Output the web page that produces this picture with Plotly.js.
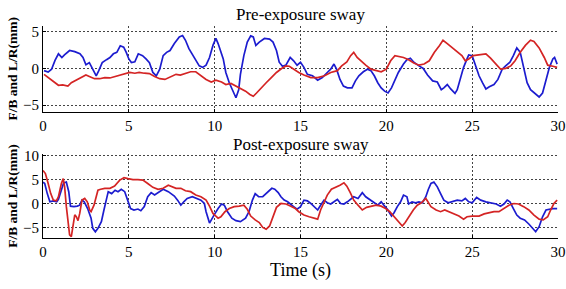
<!DOCTYPE html>
<html>
<head>
<meta charset="utf-8">
<script src="https://cdn.plot.ly/plotly-3.0.1.min.js"></script>
<style>html,body{margin:0;padding:0;background:#fff;}#chart{width:566px;height:289px;}</style>
</head>
<body>
<div id="chart"></div>
<script>
// ---- Pre-exposure sway (top) ----
const preBlueT = [0.06,0.3,0.5,0.7,0.9,1.1,1.25,1.55,1.85,2.15,2.33,2.5,2.7,2.9,3.1,3.25,3.45,3.7,3.9,4.1,4.3,4.5,4.7,4.85,5.0,5.15,5.35,5.55,5.8,6.0,6.2,6.4,6.6,6.8,7.0,7.2,7.4,7.65,7.94,8.13,8.3,8.5,8.8,9.1,9.3,9.5,9.7,9.9,10.07,10.2,10.5,10.65,10.85,11.05,11.24,11.4,11.5,11.7,11.9,12.1,12.25,12.4,12.6,12.9,13.2,13.4,13.6,13.76,13.95,14.15,14.4,14.6,14.8,15.0,15.2,15.4,15.7,16.0,16.27,16.56,16.76,16.95,17.1,17.3,17.5,17.73,18.0,18.2,18.4,18.66,18.9,19.1,19.3,19.5,19.7,19.9,20.1,20.3,20.5,20.7,21.0,21.2,21.4,21.6,21.9,22.15,22.4,22.7,22.97,23.2,23.35,23.55,23.75,24.0,24.13,24.3,24.5,24.7,24.8,25.0,25.2,25.4,25.6,25.8,26.0,26.27,26.5,26.75,26.95,27.2,27.4,27.6,27.8,28.0,28.2,28.4,28.7,28.9,29.1,29.3,29.5,29.7,29.8,29.95];
const preBlueY = [-0.3,-0.5,-0.1,1.1,2.0,1.5,1.85,2.45,2.3,2.0,1.5,0.5,0.8,-0.1,-1.0,-0.3,0.8,1.2,1.5,2.0,2.2,3.1,2.9,2.2,1.3,0.8,0.9,2.0,1.75,1.3,0.8,-0.55,-1.0,-0.1,1.75,2.2,2.45,3.4,4.3,4.5,3.85,2.7,1.5,0.35,0.15,0.45,1.5,3.15,4.1,3.4,1.3,-0.55,-1.95,-3.1,-4.0,-2.9,-0.8,1.75,3.6,4.45,4.3,3.15,3.6,4.1,4.0,3.6,2.45,0.85,0.3,0.45,1.5,1.05,0.45,0.85,0.15,-0.8,-1.0,-1.6,-1.25,-0.55,-0.1,0.6,-0.1,-1.5,-2.4,-2.65,-2.65,-1.7,-1.0,-0.45,-0.1,-0.3,-1.0,-1.95,-2.65,-3.1,-3.35,-2.65,-1.7,-0.55,0.6,1.2,1.4,0.85,0.35,0.0,-0.9,-1.7,-1.85,-2.9,-2.65,-2.2,-2.8,-3.4,-2.9,-1.5,0.15,1.3,1.85,1.75,0.35,-1.0,-1.95,-2.8,-2.5,-2.2,-1.5,-0.1,0.35,0.85,1.75,2.8,2.2,-0.1,-1.95,-2.9,-3.55,-3.9,-3.35,-1.7,0.15,1.3,1.5,0.6];

const preRedT = [0.06,0.3,0.6,0.9,1.15,1.45,1.65,1.95,2.25,2.5,2.7,3.0,3.3,3.6,3.9,4.2,4.45,4.75,5.05,5.35,5.6,5.9,6.2,6.5,6.8,7.1,7.45,7.75,8.0,8.3,8.6,8.9,9.2,9.5,9.8,10.07,10.4,10.65,10.95,11.24,11.5,11.8,12.05,12.25,12.44,12.7,13.0,13.3,13.6,13.9,14.15,14.35,14.6,14.9,15.2,15.6,16.0,16.4,16.76,17.15,17.4,17.7,17.92,18.1,18.3,18.5,18.8,19.1,19.4,19.7,20.0,20.25,20.5,20.7,21.0,21.3,21.6,21.9,22.2,22.5,22.8,23.1,23.3,23.55,23.85,24.1,24.4,24.6,24.8,25.06,25.4,25.8,26.07,26.4,26.65,26.95,27.25,27.5,27.8,28.1,28.4,28.6,28.9,29.2,29.4,29.7,29.95];
const preRedY = [-0.8,-1.25,-1.85,-2.3,-2.25,-2.4,-1.95,-1.6,-1.25,-0.9,-1.1,-1.4,-1.4,-1.25,-1.3,-1.1,-1.0,-0.8,-0.55,-0.65,-0.55,-0.65,-0.7,-1.1,-1.4,-1.5,-1.1,-0.8,-0.9,-0.65,-0.45,-0.45,-1.0,-1.5,-1.85,-1.6,-1.85,-2.2,-2.05,-2.4,-2.65,-3.1,-3.55,-3.8,-3.35,-2.65,-1.95,-1.25,-0.55,0.0,0.35,0.3,-0.1,-0.55,-0.9,-1.25,-1.25,-1.0,-0.55,-0.3,0.35,0.9,1.75,2.2,1.5,1.05,0.45,-0.1,-0.3,-0.45,-0.1,1.05,1.75,1.65,1.5,1.2,0.75,0.45,0.6,1.05,2.2,3.15,3.85,3.4,2.8,2.3,1.75,1.05,1.3,1.75,1.85,2.0,1.4,0.6,-0.1,0.0,0.35,1.05,2.2,3.15,3.85,3.7,2.8,1.5,0.45,0.3,0.15];

// ---- Post-exposure sway (bottom) ----
const postBlueT = [0,0.1,0.25,0.4,0.6,0.8,0.9,1.07,1.2,1.36,1.5,1.6,1.8,2.0,2.14,2.27,2.4,2.6,2.8,2.9,3.05,3.2,3.4,3.55,3.7,3.8,4.0,4.2,4.37,4.56,4.76,4.95,5.1,5.3,5.53,5.7,5.9,6.1,6.3,6.5,6.74,7.0,7.3,7.65,7.84,8.03,8.2,8.4,8.7,8.95,9.2,9.4,9.5,9.7,9.84,9.97,10.2,10.4,10.56,10.75,11.0,11.24,11.5,11.8,12.0,12.2,12.36,12.56,12.8,13.1,13.33,13.5,13.7,13.86,14.05,14.25,14.44,14.6,14.8,15.0,15.2,15.4,15.6,15.8,16.0,16.17,16.37,16.56,16.76,16.95,17.15,17.34,17.53,17.73,17.92,18.1,18.35,18.6,18.8,19.05,19.3,19.5,19.7,19.86,20.06,20.3,20.45,20.64,20.83,21.0,21.2,21.3,21.5,21.7,21.9,22.1,22.3,22.45,22.6,22.77,22.97,23.16,23.35,23.6,23.84,24.13,24.4,24.6,24.8,25.0,25.26,25.5,25.8,26.07,26.4,26.65,26.85,27.04,27.2,27.4,27.6,27.8,28.05,28.3,28.5,28.7,28.9,29.1,29.3,29.5,29.7,29.95];
const postBlueY = [4.5,4.2,2.1,0.4,0.6,0.4,0.9,2.8,4.3,4.5,2.5,-0.5,-0.6,-0.5,-0.3,0.75,0.4,-1.0,-3.0,-5.1,-5.8,-5.1,-3.7,-1.3,0.75,2.5,2.1,2.8,2.5,3.0,2.5,0.75,-1.0,-1.3,-1.1,-1.45,-0.6,1.45,2.3,1.8,2.3,3.0,2.5,1.6,0.75,-0.3,0.4,1.1,1.45,1.1,0.75,0.05,-1.65,-4.0,-3.0,-2.3,-1.0,-0.05,-0.3,-1.65,-3.0,-3.5,-3.7,-3.0,-1.65,0.75,2.1,1.45,1.45,2.5,3.2,3.0,2.3,1.45,0.75,0.4,-0.05,-0.6,-1.15,-0.6,0.75,0.6,0.05,-0.6,-1.3,-0.3,0.75,0.2,-0.05,0.4,0.9,0.05,-0.05,0.4,0.9,1.45,1.1,2.3,1.45,0.75,0.2,-0.3,0.4,-0.3,-1.15,-2.55,-1.85,-0.6,0.4,1.8,1.45,-0.05,0.4,0.2,0.4,0.2,1.45,3.0,4.2,4.5,3.5,2.1,0.75,0.2,0.4,0.75,0.6,1.1,0.4,0.2,1.3,0.75,0.4,0.2,-0.05,-0.5,-0.05,0.75,0.4,-1.0,-2.35,-3.0,-3.35,-4.2,-5.1,-5.8,-4.75,-2.7,-1.3,-1.15,-1.0,-1.0];

const postRedT = [0,0.14,0.3,0.45,0.6,0.78,0.9,1.07,1.18,1.26,1.36,1.46,1.55,1.65,1.75,1.85,1.94,2.04,2.14,2.27,2.43,2.58,2.72,2.8,2.97,3.1,3.2,3.36,3.6,3.9,4.17,4.47,4.72,4.95,5.24,5.53,5.82,6.1,6.4,6.7,7.0,7.3,7.6,7.75,8.03,8.3,8.6,8.9,9.2,9.5,9.7,9.9,10.07,10.2,10.36,10.6,10.85,11.14,11.43,11.7,11.9,12.1,12.36,12.6,12.8,13.0,13.2,13.4,13.6,13.86,14.15,14.44,14.7,14.9,15.2,15.5,15.8,16.0,16.17,16.37,16.56,16.8,17.05,17.3,17.53,17.7,17.9,18.1,18.35,18.6,18.85,19.1,19.4,19.7,19.96,20.2,20.45,20.68,20.93,21.1,21.3,21.57,21.8,22.04,22.3,22.6,22.9,23.16,23.4,23.65,23.94,24.23,24.5,24.7,25.0,25.4,25.7,26.0,26.27,26.56,26.85,27.14,27.43,27.7,28.0,28.3,28.6,28.9,29.14,29.4,29.57,29.76,29.95];
const postRedY = [6.9,6.25,4.2,2.1,0.75,0.6,1.45,4.2,5.2,3.5,-0.6,-4.0,-6.45,-6.8,-4.4,-2.3,-2.7,-3.5,-2.0,0.75,1.1,0.4,-1.3,-1.65,-0.3,1.45,2.8,3.0,3.2,3.2,3.65,4.9,5.4,5.2,5.0,5.0,4.9,4.2,3.4,3.0,3.2,3.85,3.5,3.2,3.2,2.7,2.5,1.8,1.45,0.75,-0.5,-2.0,-2.55,-3.0,-2.7,-1.65,-1.0,-0.6,-0.5,-0.3,-1.15,-2.55,-3.35,-3.9,-4.9,-5.3,-4.6,-2.7,-0.75,0.05,-0.05,-0.5,-1.0,-1.65,-2.35,-2.7,-3.0,-3.2,-1.3,0.4,1.8,3.0,3.35,3.85,4.35,3.65,2.3,0.75,-0.3,-1.3,-0.75,-0.5,-0.3,-0.5,-1.0,-1.65,-2.7,-3.7,-4.6,-3.9,-2.7,-1.3,-0.3,0.2,1.1,-0.6,-1.3,-1.65,-1.3,-1.65,-2.1,-2.55,-3.2,-2.7,-2.55,-2.55,-2.1,-1.85,-1.65,-1.65,-1.0,-0.3,0.05,-0.05,-0.6,-1.3,-2.35,-3.2,-3.35,-2.7,-1.3,0.05,0.75];

const xTicks = [0,5,10,15,20,25,30];
const preYTicks = [-5,0,5];
const postYTicks = [-5,0,5,10];
const titles = ["Pre-exposure sway","Post-exposure sway"];
const xTitle = "Time (s)";
const yTitle = "F/B and L/R(mm)";

const blue = '#1c1ccf', red = '#d42424';
const serif = 'Liberation Serif';

const traces = [
  {x: preBlueT, y: preBlueY, xaxis:'x', yaxis:'y', mode:'lines', line:{color:blue, width:1.7}},
  {x: preRedT, y: preRedY, xaxis:'x', yaxis:'y', mode:'lines', line:{color:red, width:1.7}},
  {x: postBlueT, y: postBlueY, xaxis:'x2', yaxis:'y2', mode:'lines', line:{color:blue, width:1.7}},
  {x: postRedT, y: postRedY, xaxis:'x2', yaxis:'y2', mode:'lines', line:{color:red, width:1.7}}
];

function ax(extra) {
  return Object.assign({
    showline:true, linecolor:'#000', linewidth:1, mirror:false,
    showgrid:true, gridcolor:'#444', griddash:'2px,2px', gridwidth:1,
    zeroline:false, ticks:'inside', ticklen:3, tickcolor:'#000',
    tickfont:{family:serif, size:15, color:'#000'}
  }, extra);
}

const layout = {
  width:566, height:289,
  margin:{l:43, r:8, t:26, b:51},
  paper_bgcolor:'#fff', plot_bgcolor:'#fff',
  font:{family:serif, color:'#000'},
  showlegend:false,
  xaxis: ax({domain:[0,1], range:[0,30], tickvals:xTicks, anchor:'y'}),
  yaxis: ax({domain:[0.596,1], range:[-5.9,5.8], tickvals:preYTicks, anchor:'x',
          title:{text:'<b>'+yTitle+'</b>', font:{family:serif, size:13.5, color:'#000'}, standoff:2}}),
  xaxis2: ax({domain:[0,1], range:[0,30], tickvals:xTicks, anchor:'y2',
          title:{text:xTitle, font:{family:serif, size:18, color:'#000'}, standoff:4}}),
  yaxis2: ax({domain:[0,0.396], range:[-7.1,10.3], tickvals:postYTicks, anchor:'x2',
          title:{text:'<b>'+yTitle+'</b>', font:{family:serif, size:13.5, color:'#000'}, standoff:2}}),
  annotations:[
    {text:titles[0], xref:'paper', yref:'paper', x:0.5, y:1, yshift:12, xanchor:'center', yanchor:'middle', showarrow:false, font:{family:serif, size:17, color:'#000'}},
    {text:titles[1], xref:'paper', yref:'paper', x:0.5, y:0.396, yshift:10, xanchor:'center', yanchor:'middle', showarrow:false, font:{family:serif, size:17, color:'#000'}}
  ]
};

Plotly.newPlot('chart', traces, layout, {displayModeBar:false, staticPlot:true});
</script>
</body>
</html>
